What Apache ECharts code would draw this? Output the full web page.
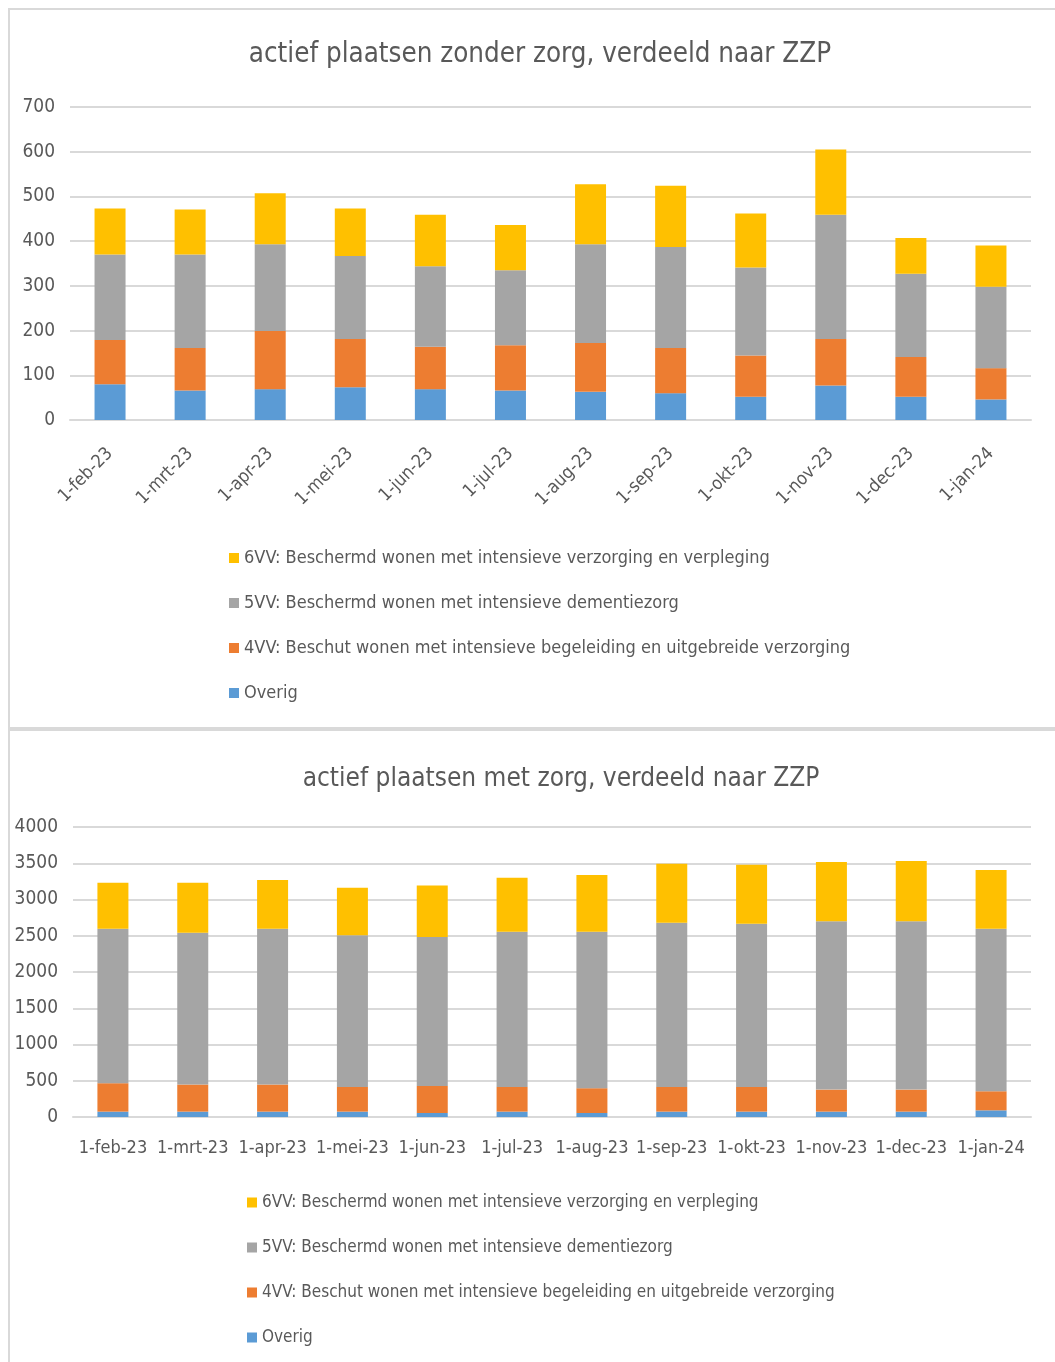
<!DOCTYPE html>
<html>
<head>
<meta charset="utf-8">
<script src="https://cdn.jsdelivr.net/npm/echarts@6/dist/echarts.min.js"></script>
<style>
  body { margin: 0; background: #fff; width: 1055px; height: 1362px; overflow: hidden; position: relative; }
  .panel { position: absolute; left: 8px; width: 1060px; border-left: 2px solid #d9d9d9; border-top: 2px solid #d9d9d9; }
  .chart { position: absolute; left: 0; width: 1055px; }
</style>
</head>
<body>
<div class="panel" style="top:8px;height:720px;"></div>
<div class="panel" style="top:727px;height:640px;border-top-width:4px;"></div>
<div id="zonder" class="chart" style="top:0;height:728px;"></div>
<div id="met" class="chart" style="top:728px;height:634px;"></div>

<script>
// categorieën (peildata)
var categories = ['1-feb-23', '1-mrt-23', '1-apr-23', '1-mei-23', '1-jun-23', '1-jul-23',
  '1-aug-23', '1-sep-23', '1-okt-23', '1-nov-23', '1-dec-23', '1-jan-24']

var seriesNames = [
  'Overig',
  '4VV: Beschut wonen met intensieve begeleiding en uitgebreide verzorging',
  '5VV: Beschermd wonen met intensieve dementiezorg',
  '6VV: Beschermd wonen met intensieve verzorging en verpleging'
]
var seriesColors = ['#5B9BD5', '#ED7D31', '#A5A5A5', '#FFC000']

// actief plaatsen zonder zorg
var zonderOverig = [80, 66, 69, 73, 69, 66, 63, 60, 52, 77, 52, 46]
var zonder4VV = [99, 95, 130, 108, 95, 101, 109, 101, 92, 104, 89, 70]
var zonder5VV = [191, 209, 194, 186, 180, 168, 221, 226, 197, 278, 186, 182]
var zonder6VV = [103, 101, 114, 106, 115, 101, 134, 137, 121, 146, 80, 92]

// actief plaatsen met zorg
var metOverig = [74, 74, 74, 74, 55, 74, 55, 74, 74, 74, 74, 92]
var met4VV = [392, 374, 374, 341, 374, 341, 342, 341, 341, 304, 304, 263]
var met5VV = [2129, 2092, 2147, 2093, 2055, 2139, 2157, 2263, 2249, 2323, 2323, 2240]
var met6VV = [636, 691, 673, 654, 710, 746, 783, 816, 816, 816, 830, 811]

// y-as
var zonderMax = 700
var zonderStep = 100
var metMax = 4000
var metStep = 500

var fontFam = '"Liberation Sans Narrow", "DejaVu Sans Condensed", "Open Sans", sans-serif'
var textColor = '#595959'

function buildSeries (lists) {
  var series = []
  for (var i = 0; i < lists.length; i++) {
    series.push({
      name: seriesNames[i],
      type: 'bar',
      stack: 'totaal',
      barWidth: 31,
      itemStyle: { color: seriesColors[i] },
      data: lists[i]
    })
  }
  return series
}

function drawChart (el, cfg) {
  var myChart = echarts.init(document.getElementById(el))
  var options = {
    animation: false,
    textStyle: { fontFamily: fontFam },
    title: {
      text: cfg.title,
      left: cfg.titleX,
      top: cfg.titleTop,
      textAlign: 'center',
      textStyle: { fontFamily: fontFam, fontSize: cfg.titleSize, fontWeight: 'normal', color: textColor }
    },
    legend: {
      orient: 'vertical',
      left: cfg.legendLeft,
      top: cfg.legendTop,
      itemGap: cfg.legendGap,
      itemWidth: 10,
      itemHeight: 10,
      icon: 'rect',
      data: seriesNames.slice().reverse(),
      textStyle: { fontFamily: fontFam, fontSize: cfg.legendSize, color: textColor }
    },
    grid: cfg.grid,
    xAxis: {
      type: 'category',
      data: categories,
      axisTick: { show: false },
      axisLine: { lineStyle: { color: '#d9d9d9', width: 2 } },
      axisLabel: {
        interval: 0,
        rotate: cfg.rotate,
        margin: cfg.labelMargin,
        fontFamily: fontFam,
        fontSize: 18,
        color: textColor
      }
    },
    yAxis: {
      type: 'value',
      min: 0,
      max: cfg.max,
      interval: cfg.step,
      axisLine: { show: false },
      axisTick: { show: false },
      splitLine: { lineStyle: { color: '#d9d9d9', width: 2 } },
      axisLabel: {
        fontFamily: fontFam,
        fontSize: 19,
        color: textColor,
        margin: 15,
        formatter: function (v) { return String(v) }
      }
    },
    series: buildSeries(cfg.data)
  }
  myChart.setOption(options)
}

drawChart('zonder', {
  title: 'actief plaatsen zonder zorg, verdeeld naar ZZP',
  titleX: 535,
  titleTop: 36,
  titleSize: 27.5,
  legendLeft: 224,
  legendTop: 544,
  legendGap: 27,
  legendSize: 18,
  grid: { left: 70, right: 24, top: 107, bottom: 308 },
  rotate: 45,
  labelMargin: 31,
  max: zonderMax,
  step: zonderStep,
  data: [zonderOverig, zonder4VV, zonder5VV, zonder6VV]
})

drawChart('met', {
  title: 'actief plaatsen met zorg, verdeeld naar ZZP',
  titleX: 556,
  titleTop: 33,
  titleSize: 26,
  legendLeft: 242,
  legendTop: 461,
  legendGap: 28,
  legendSize: 17,
  grid: { left: 73, right: 24, top: 99, bottom: 245 },
  rotate: 0,
  labelMargin: 22,
  max: metMax,
  step: metStep,
  data: [metOverig, met4VV, met5VV, met6VV]
})
</script>
</body>
</html>
